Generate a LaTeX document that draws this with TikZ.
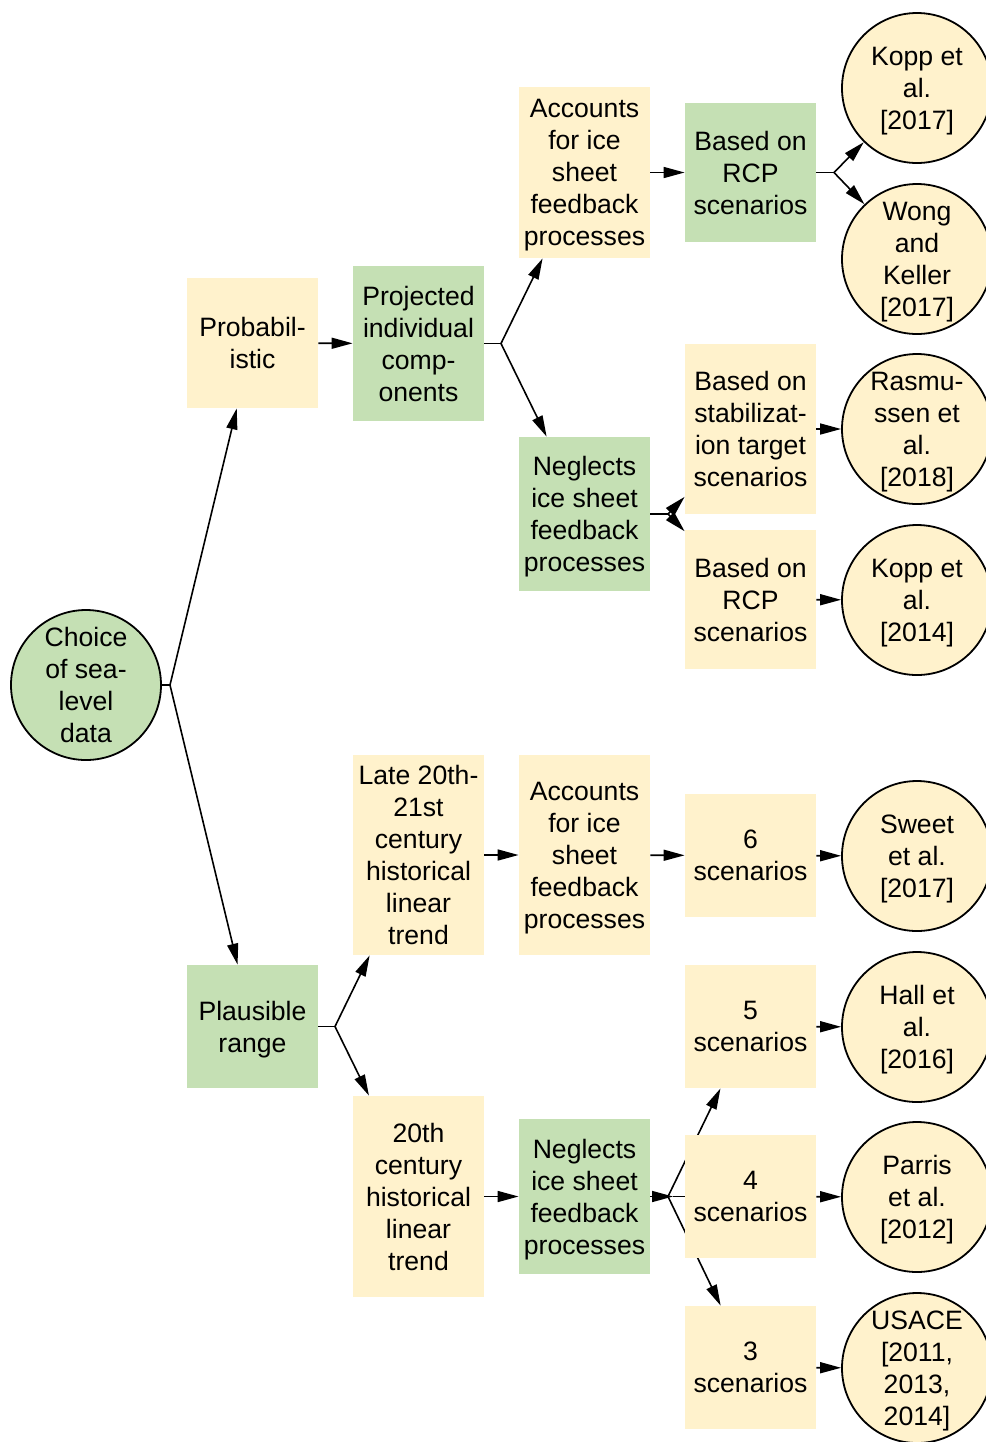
\documentclass[tikz,border=0pt]{standalone}
\usepackage{fontspec}
\setmainfont{Liberation Sans}
\usetikzlibrary{arrows.meta,backgrounds}
\definecolor{gfill}{HTML}{C5E0B4}
\definecolor{yfill}{HTML}{FFF2CC}
\tikzset{
  box/.style={rectangle, inner sep=0pt, minimum width=65.5pt, align=center, text depth=0pt,
     font=\fontsize{13.3}{16}\selectfont},
  gbox/.style={box, fill=gfill},
  ybox/.style={box, fill=yfill},
  circ/.style={circle, draw=black, line width=0.9pt, inner sep=0pt, minimum size=75pt,
     align=center, text depth=0pt, font=\fontsize{13.3}{16}\selectfont},
  gcirc/.style={circ, fill=gfill},
  ycirc/.style={circ, fill=yfill},
  arr/.style={line width=0.8pt, -{Triangle[length=10.5pt,width=5.5pt]}},
  ln/.style={line width=0.8pt}
}
\begin{document}
\begin{tikzpicture}[x=0.5pt,y=-0.5pt]
\useasboundingbox (0,0) rectangle (986,1442);
% circles
\node[gcirc] (choice) at (86,685) {Choice\\of sea-\\level\\data};
\node[ycirc] (kopp17) at (917,88) {Kopp et\\al.\\{[2017]}};
\node[ycirc] (wong) at (917,259) {Wong\\and\\Keller\\{[2017]}};
\node[ycirc] (rasm) at (917,429) {Rasmu-\\ssen et\\al.\\{[2018]}};
\node[ycirc] (kopp14) at (917,600) {Kopp et\\al.\\{[2014]}};
\node[ycirc] (sweet) at (917,856) {Sweet\\et al.\\{[2017]}};
\node[ycirc] (hall) at (917,1027) {Hall et\\al.\\{[2016]}};
\node[ycirc] (parris) at (917,1197) {Parris\\et al.\\{[2012]}};
\node[ycirc] (usace) at (917,1368) {USACE\\{[2011,}\\2013,\\2014]};
% column 1
\node[ybox, minimum height=65pt] (prob) at (252.5,343) {Probabil-\\istic};
\node[gbox, minimum height=61.5pt] (plaus) at (252.5,1026.5) {Plausible\\range};
% column 2
\node[gbox, minimum height=77.5pt] (proj) at (418.5,343.5) {Projected\\individual\\comp-\\onents};
\node[ybox, minimum height=100pt] (late) at (418.5,855) {Late 20th-\\21st\\century\\historical\\linear\\trend};
\node[ybox, minimum height=100.5pt] (c20) at (418.5,1196.5) {20th\\century\\historical\\linear\\trend};
% column 3
\node[ybox, minimum height=85.5pt] (acc1) at (584.5,172.5) {Accounts\\for ice\\sheet\\feedback\\processes};
\node[gbox, minimum height=77pt] (neg1) at (584.5,514) {Neglects\\ice sheet\\feedback\\processes};
\node[ybox, minimum height=100pt] (acc2) at (584.5,855) {Accounts\\for ice\\sheet\\feedback\\processes};
\node[gbox, minimum height=77.5pt] (neg2) at (584.5,1196.5) {Neglects\\ice sheet\\feedback\\processes};
% column 4
\node[gbox, minimum height=69.5pt] (rcp1) at (750.5,172.5) {Based on\\RCP\\scenarios};
\node[ybox, minimum height=85pt] (stab) at (750.5,429) {Based on\\stabilizat-\\ion target\\scenarios};
\node[ybox, minimum height=69.5pt] (rcp2) at (750.5,599.5) {Based on\\RCP\\scenarios};
\node[ybox, minimum height=61.5pt] (s6) at (750.5,855.5) {6\\scenarios};
\node[ybox, minimum height=61.5pt] (s5) at (750.5,1026.5) {5\\scenarios};
\node[ybox, minimum height=61.5pt] (s4) at (750.5,1196.5) {4\\scenarios};
\node[ybox, minimum height=61.5pt] (s3) at (750.5,1367.5) {3\\scenarios};
% branch points
\coordinate (bC) at (170,685);
\coordinate (bPr) at (501,343.5);
\coordinate (bN1) at (668,514);
\coordinate (bR1) at (834,172.5);
\coordinate (bPl) at (335,1026.5);
\coordinate (bN2) at (668,1196.5);
\coordinate (hN2) at (673,1196.5);
\begin{pgfonlayer}{background}
\draw[ln] (choice.east) -- (bC);
\draw[arr] (bC) -- (prob);
\draw[arr] (bC) -- (plaus);
\draw[arr] (prob) -- (proj);
\draw[ln] (proj.east) -- (bPr);
\draw[arr] (bPr) -- (acc1);
\draw[arr] (bPr) -- (neg1);
\draw[arr] (acc1) -- (rcp1);
\draw[ln] (rcp1.east) -- (bR1);
\draw[arr] (bR1) -- (kopp17);
\draw[arr] (bR1) -- (wong);
\draw[ln] (neg1.east) -- (bN1);
\draw[arr] (bN1) -- (stab);
\draw[arr] (bN1) -- (rcp2);
\draw[arr] (stab) -- (rasm);
\draw[arr] (rcp2) -- (kopp14);
\draw[ln] (plaus.east) -- (bPl);
\draw[arr] (bPl) -- (late);
\draw[arr] (bPl) -- (c20);
\draw[arr] (late) -- (acc2);
\draw[arr] (acc2) -- (s6);
\draw[arr] (s6) -- (sweet);
\draw[arr] (c20) -- (neg2);
\draw[arr] (neg2.east) -- (hN2);
\draw[ln] (hN2) -- (s4);
\draw[arr] (bN2) -- (s5);
\draw[arr] (bN2) -- (s3);
\draw[arr] (s5) -- (hall);
\draw[arr] (s4) -- (parris);
\draw[arr] (s3) -- (usace);
\end{pgfonlayer}
\end{tikzpicture}
\end{document}
